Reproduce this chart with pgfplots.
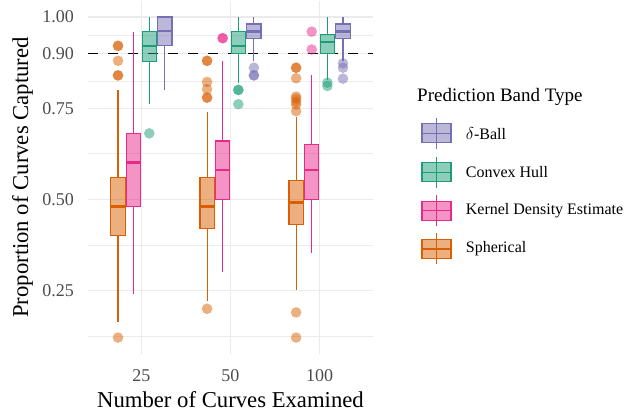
\documentclass[border=0pt]{standalone}
\usepackage{fontspec}
\setmainfont{Liberation Serif}
\usepackage{pgfplots}
\pgfplotsset{compat=1.18}
\usepgfplotslibrary{statistics}

\definecolor{cSph}{HTML}{D95F02}
\definecolor{cKde}{HTML}{E7298A}
\definecolor{cCh}{HTML}{1B9E77}
\definecolor{cDb}{HTML}{7570B3}

\pgfplotsset{
  bx/.style={color=#1, draw=#1, fill=#1, fill opacity=0.5, line width=1.1bp},
  ol/.style={only marks, mark=*, mark size=5.3bp, color=#1,
    mark options={fill=#1, draw opacity=0, fill opacity=0.5}},
}

\begin{document}
\begin{tikzpicture}
\path[use as bounding box] (-88bp,-57bp) rectangle (540bp,354bp);
\begin{axis}[
  scale only axis, width=285bp, height=353bp,
  xmin=0.4, xmax=3.6, ymin=0.076, ymax=1.044,
  xtick={1,2,3}, xticklabels={25,50,100},
  ytick={0.25,0.5,0.75,0.9,1}, yticklabels={0.25,0.50,0.75,0.90,1.00},
  minor ytick={0.125,0.375,0.625,0.825,0.95},
  xmajorgrids, ymajorgrids, yminorgrids,
  major grid style={color=black!8, line width=1.1bp},
  minor grid style={color=black!8, line width=0.6bp},
  axis line style={draw=none},
  major tick length=0pt, minor tick length=0pt,
  tick label style={font=\fontsize{18bp}{18bp}\selectfont, text=black!70, inner sep=0pt},
  yticklabel style={anchor=east, xshift=-14bp},
  xticklabel style={anchor=base, yshift=-27.7bp},
  xlabel={Number of Curves Examined},
  ylabel={Proportion of Curves Captured},
  label style={font=\fontsize{22.7bp}{22.7bp}\selectfont},
  xlabel style={at={(axis description cs:0.5,0)}, anchor=base, yshift=-53bp},
  ylabel style={at={(axis description cs:-0.2105,0.5)}, anchor=base},
  boxplot/draw direction=y,
  boxplot/box extend=0.16,
  boxplot/whisker extend=0,
  boxplot/every whisker/.style={line width=1.1bp},
  boxplot/every median/.style={line width=2.4bp},
  clip=false,
]
% reference line
\addplot[black, line width=1.1bp, dash pattern=on 10bp off 10bp] coordinates {(0.4,0.9) (3.6,0.9)};

% Spherical
\addplot[bx=cSph, boxplot prepared={draw position=0.737, lower whisker=0.163, lower quartile=0.40, median=0.48, upper quartile=0.56, upper whisker=0.80}] coordinates {};
\addplot[bx=cSph, boxplot prepared={draw position=1.737, lower whisker=0.222, lower quartile=0.42, median=0.48, upper quartile=0.56, upper whisker=0.74}] coordinates {};
\addplot[bx=cSph, boxplot prepared={draw position=2.737, lower whisker=0.252, lower quartile=0.43, median=0.491, upper quartile=0.551, upper whisker=0.727}] coordinates {};
\addplot[ol=cSph] coordinates {
(0.737,0.121) (0.737,0.921) (0.737,0.921) (0.737,0.880) (0.737,0.840) (0.737,0.840)
(1.737,0.200) (1.737,0.880) (1.737,0.880) (1.737,0.822) (1.737,0.802) (1.737,0.779) (1.737,0.779)
(2.737,0.121) (2.737,0.190) (2.737,0.861) (2.737,0.861) (2.737,0.832) (2.737,0.782)
(2.737,0.776) (2.737,0.768) (2.737,0.760) (2.737,0.742)
};

% Kernel density estimate
\addplot[bx=cKde, boxplot prepared={draw position=0.912, lower whisker=0.241, lower quartile=0.48, median=0.601, upper quartile=0.681, upper whisker=0.96}] coordinates {};
\addplot[bx=cKde, boxplot prepared={draw position=1.912, lower whisker=0.30, lower quartile=0.50, median=0.581, upper quartile=0.660, upper whisker=0.879}] coordinates {};
\addplot[bx=cKde, boxplot prepared={draw position=2.912, lower whisker=0.353, lower quartile=0.50, median=0.581, upper quartile=0.651, upper whisker=0.84}] coordinates {};
\addplot[ol=cKde] coordinates {
(1.912,0.942) (1.912,0.942)
(2.912,0.960) (2.912,0.911)
};

% Convex hull
\addplot[bx=cCh, boxplot prepared={draw position=1.088, lower whisker=0.761, lower quartile=0.879, median=0.921, upper quartile=0.96, upper whisker=1.0}] coordinates {};
\addplot[bx=cCh, boxplot prepared={draw position=2.088, lower whisker=0.82, lower quartile=0.90, median=0.921, upper quartile=0.96, upper whisker=1.0}] coordinates {};
\addplot[bx=cCh, boxplot prepared={draw position=3.088, lower whisker=0.827, lower quartile=0.90, median=0.931, upper quartile=0.951, upper whisker=1.0}] coordinates {};
\addplot[ol=cCh] coordinates {
(1.088,0.681)
(2.088,0.800) (2.088,0.800) (2.088,0.761)
(3.088,0.820) (3.088,0.811)
};

% delta-ball
\addplot[bx=cDb, boxplot prepared={draw position=1.263, lower whisker=0.80, lower quartile=0.921, median=0.962, upper quartile=1.0, upper whisker=1.0}] coordinates {};
\addplot[bx=cDb, boxplot prepared={draw position=2.263, lower whisker=0.88, lower quartile=0.94, median=0.96, upper quartile=0.981, upper whisker=1.0}] coordinates {};
\addplot[bx=cDb, boxplot prepared={draw position=3.263, lower whisker=0.88, lower quartile=0.94, median=0.96, upper quartile=0.981, upper whisker=1.0}] coordinates {};
\addplot[ol=cDb] coordinates {
(2.263,0.861) (2.263,0.840) (2.263,0.840)
(3.263,0.873) (3.263,0.861) (3.263,0.831)
};
\end{axis}

% legend
\node[anchor=west, inner sep=0pt, font=\fontsize{19bp}{19bp}\selectfont] at (329bp,257.3bp) {Prediction Band Type};
\foreach \c/\t/\yy in {cDb/{$\delta$-Ball}/220.7, cCh/{Convex Hull}/181.7, cKde/{Kernel Density Estimate}/143.3, cSph/{Spherical}/105}{
  \draw[\c, line width=1.1bp] (348.5bp,{\yy bp-15.5bp}) -- (348.5bp,{\yy bp+15.5bp});
  \draw[\c, fill=\c, fill opacity=0.5, line width=1.1bp] (334bp,{\yy bp-9.5bp}) rectangle (363bp,{\yy bp+9.5bp});
  \draw[\c, line width=1.1bp] (334bp,\yy bp) -- (363bp,\yy bp);
  \node[anchor=west, inner sep=0pt, font=\fontsize{16bp}{16bp}\selectfont] at (377.7bp,\yy bp) {\t};
}
\end{tikzpicture}
\end{document}
